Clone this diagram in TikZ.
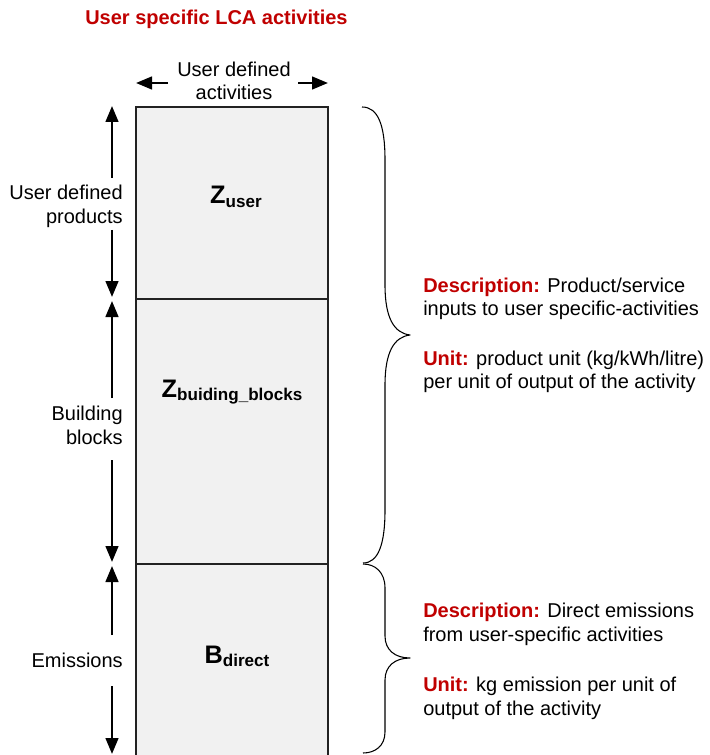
\documentclass[tikz,border=0pt]{standalone}
\usepackage{fontspec}
\setmainfont{Liberation Sans}
\usetikzlibrary{arrows.meta}
\definecolor{accent}{HTML}{C00000}
\definecolor{cellfill}{HTML}{F1F1F1}
\definecolor{cellline}{HTML}{222222}

\begin{document}
\begin{tikzpicture}[x=0.75pt,y=-0.75pt,
  body/.style={font=\fontsize{15}{18}\selectfont, inner sep=0pt},
  heading/.style={font=\fontsize{15}{18}\selectfont\bfseries, text=accent, inner sep=0pt},
  matlabel/.style={inner sep=0pt, font=\bfseries},
  cell/.style={fill=cellfill, draw=cellline, line width=0.8pt},
  span/.style={line width=1.8pt, -{Triangle[length=12pt,width=9.5pt]}},
  bracket/.style={line width=0.8pt, line join=round},
]
\newcommand{\matsym}[2]{{\fontsize{19}{20}\selectfont #1}\raisebox{-2.6pt}{\fontsize{12.8}{14}\selectfont #2}}
\newcommand{\tag}[1]{{\color{accent}\bfseries #1}}

\useasboundingbox (0,0) rectangle (709,755);

% Title
\node[heading, anchor=base west] (title) at (85,25) {User specific LCA activities};

% Stacked cells of the matrix
\draw[cell] (136,107) rectangle (328,299);
\draw[cell] (136,299) rectangle (328,564);
\draw[cell] (136,564) rectangle (328,760);
\coordinate (colL) at (136,83);
\coordinate (colR) at (328,83);

\node[matlabel, anchor=base] (zuser) at (236,204) {\matsym{Z}{user}};
\node[matlabel, anchor=base] (zbb) at (232,397) {\matsym{Z}{buiding\_blocks}};
\node[matlabel, anchor=base] (bdir) at (237,663) {\matsym{B}{direct}};

% Column header with arrows
\node[body, anchor=base] (hd1) at (234,77) {User defined};
\node[body, anchor=base] (hd2) at (234,100) {activities};
\coordinate (hdL) at (168,83);
\coordinate (hdR) at (298,83);
\draw[span] (hdL) -- (colL);
\draw[span] (hdR) -- (colR);

% Row labels with spanning arrows
\node[body, anchor=base east] (r1a) at (123,200) {User defined};
\node[body, anchor=base east] (r1b) at (123,224) {products};
\node[body, anchor=base east] (r2a) at (123,420) {Building};
\node[body, anchor=base east] (r2b) at (123,444) {blocks};
\node[body, anchor=base east] (r3a) at (123,667) {Emissions};

\coordinate (a1top) at (112,106);
\coordinate (a1gapT) at (112,178);
\coordinate (a1gapB) at (112,230);
\coordinate (a1bot) at (112,297);
\coordinate (a2top) at (112,301);
\coordinate (a2gapT) at (112,398);
\coordinate (a2gapB) at (112,460);
\coordinate (a2bot) at (112,562);
\coordinate (a3top) at (112,566);
\coordinate (a3gapT) at (112,635);
\coordinate (a3gapB) at (112,686);
\coordinate (a3bot) at (112,754);

\draw[span] (a1gapT) -- (a1top);
\draw[span] (a1gapB) -- (a1bot);
\draw[span] (a2gapT) -- (a2top);
\draw[span] (a2gapB) -- (a2bot);
\draw[span] (a3gapT) -- (a3top);
\draw[span] (a3gapB) -- (a3bot);

% Braces
\draw[bracket] (362,107) .. controls (378,107) and (385,125) .. (385,160)
  -- (385,285) .. controls (385,318) and (394,333) .. (410,335)
  .. controls (394,337) and (385,352) .. (385,385)
  -- (385,510) .. controls (385,545) and (378,563) .. (363,563);
\draw[bracket] (363,564) .. controls (375,564) and (385,572) .. (385,588)
  -- (385,636) .. controls (385,650) and (395,658) .. (410,658)
  .. controls (395,658) and (385,666) .. (385,680)
  -- (385,732) .. controls (385,746) and (375,753) .. (363,753);

% Descriptions
\node[body, anchor=base west] (d1a) at (423,292) {\tag{Description:} Product/service};
\node[body, anchor=base west] (d1b) at (423,315) {inputs to user specific-activities};
\node[body, anchor=base west] (d1c) at (423,365) {\tag{Unit:} product unit (kg/kWh/litre)};
\node[body, anchor=base west] (d1d) at (423,388) {per unit of output of the activity};

\node[body, anchor=base west] (d2a) at (423,617) {\tag{Description:} Direct emissions};
\node[body, anchor=base west] (d2b) at (423,641) {from user-specific activities};
\node[body, anchor=base west] (d2c) at (423,691) {\tag{Unit:} kg emission per unit of};
\node[body, anchor=base west] (d2d) at (423,715) {output of the activity};
\end{tikzpicture}
\end{document}
